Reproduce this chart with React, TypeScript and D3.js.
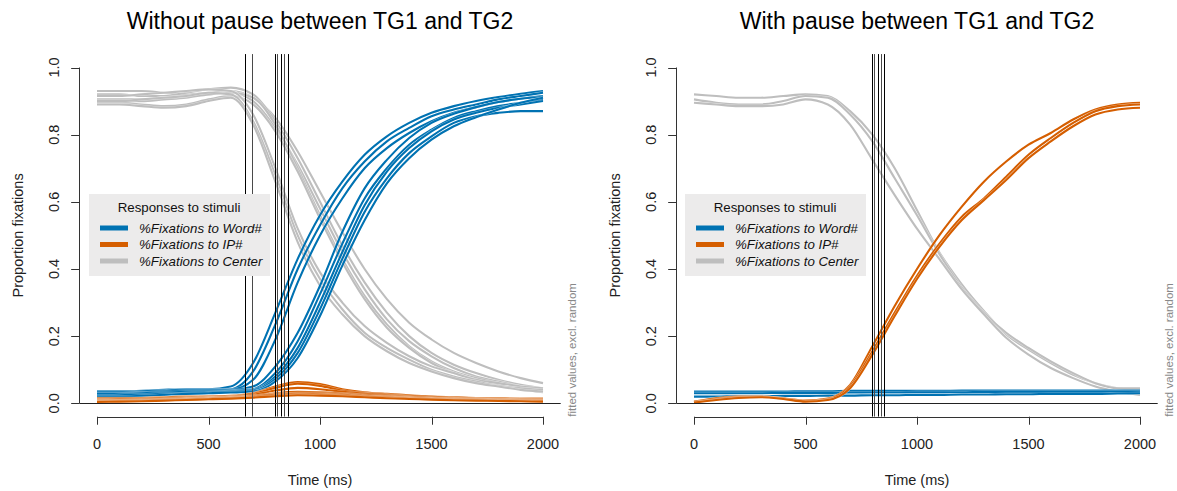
import React from "react";
import * as d3 from "d3";

// Time grid (ms) shared by all fitted curves
const times = [0, 100, 200, 300, 400, 500, 600, 700, 800, 900, 1000, 1100, 1200, 1300, 1400, 1500, 1600, 1700, 1800, 1900, 2000];

// Without pause: %Fixations to Center
const leftCenter = [
  [0.93, 0.93, 0.93, 0.925, 0.92, 0.925, 0.93, 0.91, 0.85, 0.75, 0.63, 0.51, 0.40, 0.31, 0.24, 0.19, 0.15, 0.12, 0.095, 0.075, 0.06],
  [0.92, 0.92, 0.915, 0.915, 0.925, 0.935, 0.94, 0.92, 0.84, 0.73, 0.60, 0.47, 0.36, 0.27, 0.20, 0.15, 0.115, 0.09, 0.07, 0.055, 0.045],
  [0.905, 0.905, 0.905, 0.91, 0.915, 0.92, 0.925, 0.90, 0.82, 0.71, 0.58, 0.45, 0.34, 0.25, 0.185, 0.14, 0.105, 0.08, 0.065, 0.05, 0.04],
  [0.90, 0.90, 0.90, 0.905, 0.91, 0.92, 0.925, 0.91, 0.83, 0.70, 0.56, 0.43, 0.32, 0.235, 0.17, 0.125, 0.095, 0.075, 0.06, 0.045, 0.035],
  [0.895, 0.895, 0.89, 0.885, 0.89, 0.905, 0.915, 0.89, 0.81, 0.69, 0.55, 0.42, 0.31, 0.225, 0.165, 0.12, 0.09, 0.07, 0.055, 0.042, 0.033],
  [0.915, 0.915, 0.92, 0.925, 0.93, 0.935, 0.93, 0.86, 0.70, 0.52, 0.39, 0.30, 0.23, 0.18, 0.14, 0.11, 0.09, 0.07, 0.06, 0.05, 0.045],
  [0.90, 0.90, 0.905, 0.91, 0.915, 0.925, 0.92, 0.84, 0.68, 0.50, 0.37, 0.28, 0.21, 0.165, 0.13, 0.10, 0.08, 0.065, 0.052, 0.045, 0.04],
  [0.89, 0.89, 0.885, 0.88, 0.885, 0.90, 0.91, 0.83, 0.66, 0.48, 0.35, 0.265, 0.20, 0.155, 0.12, 0.095, 0.075, 0.06, 0.05, 0.04, 0.035],
];

// Without pause: %Fixations to Word#
const leftWord = [
  [0.035, 0.035, 0.037, 0.04, 0.042, 0.042, 0.05, 0.12, 0.27, 0.43, 0.56, 0.66, 0.74, 0.795, 0.835, 0.865, 0.885, 0.90, 0.912, 0.922, 0.93],
  [0.03, 0.032, 0.035, 0.038, 0.04, 0.04, 0.042, 0.095, 0.235, 0.40, 0.53, 0.64, 0.72, 0.78, 0.82, 0.855, 0.875, 0.89, 0.905, 0.915, 0.925],
  [0.025, 0.028, 0.03, 0.033, 0.035, 0.037, 0.04, 0.07, 0.19, 0.36, 0.50, 0.61, 0.70, 0.76, 0.805, 0.84, 0.865, 0.882, 0.897, 0.907, 0.915],
  [0.035, 0.035, 0.036, 0.038, 0.04, 0.04, 0.04, 0.05, 0.11, 0.21, 0.35, 0.51, 0.64, 0.725, 0.79, 0.835, 0.862, 0.882, 0.897, 0.907, 0.912],
  [0.03, 0.03, 0.032, 0.035, 0.037, 0.038, 0.038, 0.042, 0.09, 0.185, 0.325, 0.475, 0.61, 0.70, 0.77, 0.815, 0.85, 0.87, 0.885, 0.895, 0.905],
  [0.028, 0.028, 0.03, 0.032, 0.034, 0.035, 0.036, 0.04, 0.08, 0.165, 0.30, 0.45, 0.59, 0.69, 0.76, 0.81, 0.845, 0.865, 0.88, 0.89, 0.90],
  [0.022, 0.024, 0.026, 0.028, 0.03, 0.032, 0.034, 0.038, 0.072, 0.15, 0.28, 0.43, 0.57, 0.67, 0.745, 0.795, 0.835, 0.855, 0.865, 0.87, 0.87],
  [0.02, 0.02, 0.022, 0.025, 0.028, 0.03, 0.032, 0.035, 0.065, 0.135, 0.26, 0.41, 0.545, 0.655, 0.73, 0.785, 0.825, 0.852, 0.875, 0.895, 0.91],
];

// Without pause: %Fixations to IP#
const leftIP = [
  [0.015, 0.015, 0.016, 0.018, 0.02, 0.02, 0.022, 0.03, 0.05, 0.063, 0.057, 0.042, 0.033, 0.028, 0.024, 0.02, 0.018, 0.016, 0.015, 0.014, 0.014],
  [0.012, 0.012, 0.014, 0.016, 0.018, 0.019, 0.02, 0.028, 0.046, 0.058, 0.052, 0.038, 0.03, 0.026, 0.022, 0.019, 0.017, 0.015, 0.014, 0.013, 0.012],
  [0.01, 0.011, 0.012, 0.014, 0.016, 0.017, 0.019, 0.025, 0.038, 0.046, 0.042, 0.034, 0.028, 0.024, 0.02, 0.017, 0.015, 0.013, 0.012, 0.011, 0.01],
  [0.008, 0.009, 0.01, 0.012, 0.014, 0.016, 0.018, 0.022, 0.03, 0.034, 0.033, 0.029, 0.025, 0.021, 0.018, 0.015, 0.013, 0.012, 0.011, 0.01, 0.009],
  [0.007, 0.008, 0.009, 0.011, 0.013, 0.015, 0.017, 0.021, 0.027, 0.03, 0.03, 0.027, 0.023, 0.019, 0.016, 0.014, 0.012, 0.011, 0.01, 0.009, 0.008],
  [0.006, 0.007, 0.008, 0.01, 0.012, 0.014, 0.016, 0.02, 0.025, 0.028, 0.027, 0.025, 0.021, 0.018, 0.015, 0.013, 0.011, 0.01, 0.009, 0.008, 0.007],
  [0.005, 0.006, 0.007, 0.009, 0.011, 0.013, 0.015, 0.018, 0.023, 0.026, 0.025, 0.023, 0.02, 0.017, 0.014, 0.012, 0.01, 0.009, 0.008, 0.007, 0.006],
  [0.004, 0.005, 0.006, 0.008, 0.01, 0.012, 0.014, 0.017, 0.021, 0.024, 0.023, 0.021, 0.018, 0.015, 0.013, 0.011, 0.009, 0.008, 0.007, 0.006, 0.005],
];

// With pause: %Fixations to Center
const rightCenter = [
  [0.92, 0.915, 0.91, 0.91, 0.915, 0.92, 0.915, 0.87, 0.80, 0.70, 0.575, 0.45, 0.355, 0.275, 0.205, 0.16, 0.12, 0.085, 0.06, 0.045, 0.04],
  [0.905, 0.895, 0.89, 0.89, 0.90, 0.915, 0.91, 0.86, 0.78, 0.67, 0.56, 0.445, 0.345, 0.27, 0.21, 0.165, 0.125, 0.09, 0.06, 0.045, 0.045],
  [0.895, 0.89, 0.885, 0.885, 0.89, 0.905, 0.89, 0.83, 0.725, 0.62, 0.52, 0.43, 0.34, 0.265, 0.195, 0.145, 0.105, 0.075, 0.05, 0.035, 0.025],
];

// With pause: %Fixations to Word#
const rightWord = [
  [0.035, 0.035, 0.035, 0.035, 0.035, 0.036, 0.036, 0.037, 0.037, 0.037, 0.037, 0.037, 0.038, 0.038, 0.038, 0.038, 0.038, 0.038, 0.038, 0.038, 0.038],
  [0.03, 0.03, 0.03, 0.03, 0.031, 0.031, 0.031, 0.032, 0.032, 0.032, 0.033, 0.033, 0.033, 0.034, 0.034, 0.034, 0.034, 0.034, 0.034, 0.034, 0.034],
  [0.02, 0.02, 0.021, 0.021, 0.022, 0.022, 0.023, 0.023, 0.024, 0.024, 0.025, 0.025, 0.026, 0.026, 0.027, 0.027, 0.028, 0.028, 0.028, 0.029, 0.03],
];

// With pause: %Fixations to IP#
const rightIP = [
  [0.005, 0.015, 0.02, 0.02, 0.015, 0.008, 0.014, 0.055, 0.17, 0.29, 0.40, 0.50, 0.585, 0.66, 0.72, 0.77, 0.805, 0.845, 0.875, 0.89, 0.895],
  [0.003, 0.012, 0.018, 0.019, 0.014, 0.006, 0.012, 0.05, 0.155, 0.27, 0.38, 0.475, 0.555, 0.61, 0.675, 0.74, 0.79, 0.835, 0.87, 0.885, 0.89],
  [0.002, 0.01, 0.016, 0.018, 0.013, 0.005, 0.01, 0.045, 0.145, 0.26, 0.37, 0.465, 0.545, 0.605, 0.665, 0.73, 0.78, 0.825, 0.86, 0.875, 0.88],
];

// Vertical reference markers (ms)
const leftMarkers = [665, 694, 797, 808, 824, 840, 858];
const rightMarkers = [797, 809, 824, 839, 854];

const xTicks = [0, 500, 1000, 1500, 2000];
const yTicks = [0, 0.2, 0.4, 0.6, 0.8, 1.0];

const legendTitle = "Responses to stimuli";
const legendLabels = ["%Fixations to Word#", "%Fixations to IP#", "%Fixations to Center"];

const BLUE = "#0072B2";
const ORANGE = "#D55E00";
const GRAY = "#BEBEBE";
const FONT = "'Liberation Sans', Arial, sans-serif";

interface PanelProps {
  id: string;
  title: string;
  x0: number;
  x1: number;
  legendX: number;
  center: number[][];
  word: number[][];
  ip: number[][];
  markers: number[];
}

function Panel({ id, title, x0, x1, legendX, center, word, ip, markers }: PanelProps) {
  const x = d3.scaleLinear().domain([0, 2000]).range([x0, x1]);
  const y = d3.scaleLinear().domain([0, 1]).range([403.3, 67.5]);
  const left = x(-80);
  const right = x(2080);
  const top = y(1.04);
  const bottom = y(-0.04);
  const cx = (left + right) / 2;

  const line = d3
    .line<number>()
    .x((_, i) => x(times[i]))
    .y((v) => y(v))
    .curve(d3.curveMonotoneX);

  const drawGroup = (series: number[][], color: string, key: string) =>
    series.map((s, i) => (
      <g key={`${key}-${i}`}>
        <path d={line(s) || ""} fill="none" stroke="#ffffff" strokeWidth={2.8} strokeOpacity={0.6} />
        <path d={line(s) || ""} fill="none" stroke={color} strokeWidth={2.1} />
      </g>
    ));

  const legendTop = 194;
  const legendColors = [BLUE, ORANGE, GRAY];

  return (
    <g>
      <defs>
        <clipPath id={`clip-${id}`}>
          <rect x={left} y={top} width={right - left} height={bottom - top} />
        </clipPath>
      </defs>

      <text x={cx} y={29} textAnchor="middle" fontSize={23} fontFamily={FONT} fill="#000">
        {title}
      </text>

      <g clipPath={`url(#clip-${id})`}>
        {drawGroup(center, GRAY, "c")}
        {drawGroup(word, BLUE, "w")}
        {drawGroup(ip, ORANGE, "p")}
        {markers.map((m, i) => (
          <line
            key={`m-${i}`}
            x1={Math.round(x(m)) + 0.5}
            x2={Math.round(x(m)) + 0.5}
            y1={top}
            y2={bottom}
            stroke={i % 2 === 0 ? "#000" : "#4a4a4a"}
            strokeWidth={1}
          />
        ))}
        <line x1={left} x2={right} y1={Math.round(y(0)) + 0.5} y2={Math.round(y(0)) + 0.5} stroke="#222" strokeWidth={1} />
      </g>

      {/* y axis */}
      <line x1={Math.round(left) + 0.5} x2={Math.round(left) + 0.5} y1={y(1)} y2={y(0)} stroke="#333" />
      {yTicks.map((t) => (
        <g key={`yt-${t}`}>
          <line x1={left - 8} x2={left} y1={Math.round(y(t)) + 0.5} y2={Math.round(y(t)) + 0.5} stroke="#333" />
          <text
            transform={`translate(${left - 20},${y(t)}) rotate(-90)`}
            textAnchor="middle"
            fontSize={14.5}
            fontFamily={FONT}
            fill="#222"
          >
            {t.toFixed(1)}
          </text>
        </g>
      ))}
      <text
        transform={`translate(${left - 56},${(top + bottom) / 2}) rotate(-90)`}
        textAnchor="middle"
        fontSize={14.5}
        fontFamily={FONT}
        fill="#222"
      >
        Proportion fixations
      </text>

      {/* x axis */}
      <line x1={x(0)} x2={x(2000)} y1={Math.round(bottom) + 0.5} y2={Math.round(bottom) + 0.5} stroke="#333" />
      {xTicks.map((t) => (
        <g key={`xt-${t}`}>
          <line x1={Math.round(x(t)) + 0.5} x2={Math.round(x(t)) + 0.5} y1={bottom} y2={bottom + 8} stroke="#333" />
          <text x={x(t)} y={449} textAnchor="middle" fontSize={14.5} fontFamily={FONT} fill="#222">
            {t}
          </text>
        </g>
      ))}
      <text x={cx} y={485} textAnchor="middle" fontSize={14.5} fontFamily={FONT} fill="#222">
        Time (ms)
      </text>

      {/* annotation */}
      <text
        transform={`translate(${right + 15},${bottom}) rotate(-90)`}
        textAnchor="start"
        fontSize={11.5}
        fontFamily={FONT}
        fill="#888"
      >
        fitted values, excl. random
      </text>

      {/* legend */}
      <rect x={legendX} y={legendTop} width={181} height={82} fill="#ECEBEB" />
      <text x={legendX + 90} y={legendTop + 18} textAnchor="middle" fontSize={13.3} fontFamily={FONT} fill="#111">
        {legendTitle}
      </text>
      {legendLabels.map((lab, i) => {
        const ly = legendTop + 34 + i * 16.5;
        return (
          <g key={`lg-${i}`}>
            <line x1={legendX + 11} x2={legendX + 39} y1={ly} y2={ly} stroke={legendColors[i]} strokeWidth={5} />
            <text x={legendX + 50} y={ly + 4.5} fontSize={13.3} fontStyle="italic" fontFamily={FONT} fill="#111">
              {lab}
            </text>
          </g>
        );
      })}
    </g>
  );
}

export default function App() {
  return (
    <svg
      width={1177}
      height={491}
      style={{ position: "absolute", left: 0, top: 0, background: "#fff" }}
      xmlns="http://www.w3.org/2000/svg"
    >
      <rect width={1177} height={491} fill="#fff" />
      <Panel
        id="nopause"
        title="Without pause between TG1 and TG2"
        x0={97}
        x1={543}
        legendX={89}
        center={leftCenter}
        word={leftWord}
        ip={leftIP}
        markers={leftMarkers}
      />
      <Panel
        id="pause"
        title="With pause between TG1 and TG2"
        x0={694}
        x1={1140}
        legendX={685}
        center={rightCenter}
        word={rightWord}
        ip={rightIP}
        markers={rightMarkers}
      />
    </svg>
  );
}
